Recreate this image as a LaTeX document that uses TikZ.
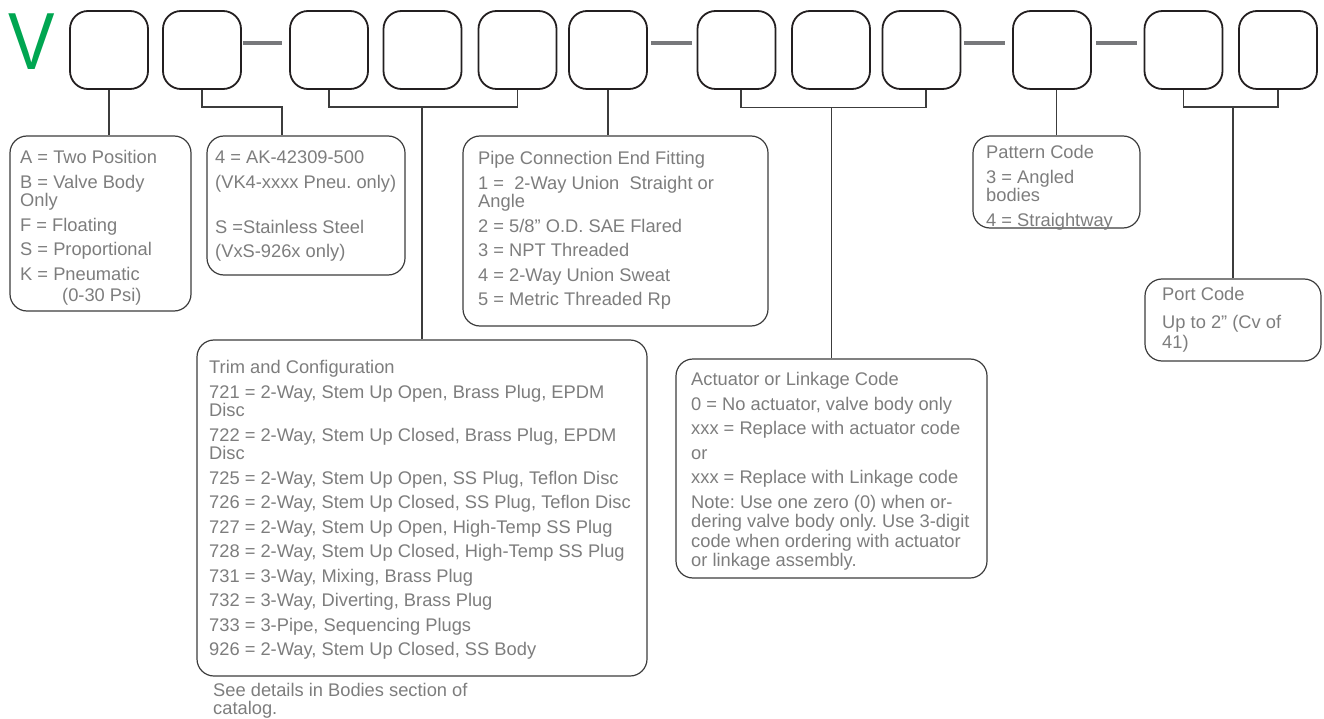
\documentclass[tikz,border=0pt]{standalone}
\usepackage{fontspec}
\setmainfont{Liberation Sans}
\usetikzlibrary{calc}
\definecolor{txtgray}{RGB}{125,125,125}
\definecolor{vgreen}{RGB}{0,166,81}
\definecolor{dashgray}{RGB}{119,120,123}
\definecolor{boxline}{RGB}{35,31,32}
\definecolor{conline}{RGB}{60,60,60}
\frenchspacing
\begin{document}
\begin{tikzpicture}[x=1pt,y=-1pt,
  codebox/.style={draw=boxline, line width=1.8pt, rounded corners=18pt, minimum width=78pt, minimum height=78pt, inner sep=0pt},
  infobox/.style={draw=conline, line width=1.2pt, rounded corners=17pt, inner sep=0pt},
  conn/.style={draw=conline, line width=1.1pt},
  sepbar/.style={draw=dashgray, line width=3.5pt},
  txt/.style={anchor=north west, inner sep=0pt, align=left, text=txtgray, font=\fontsize{18.3}{18.5}\selectfont\frenchspacing}]
\useasboundingbox (0,0) rectangle (1324,719);

% letter V
\node[anchor=base west, inner sep=0pt, text=vgreen, font=\fontsize{81}{81}\selectfont] (V) at (8,70) {\scalebox{0.86}[1]{V}};

% code boxes
\node[codebox] (b1) at (109,50) {};
\node[codebox] (b2) at (202,50) {};
\node[codebox] (b3) at (329,50) {};
\node[codebox] (b4) at (422.5,50) {};
\node[codebox] (b5) at (517.5,50) {};
\node[codebox] (b6) at (608,50) {};
\node[codebox] (b7) at (736.5,50) {};
\node[codebox] (b8) at (831,50) {};
\node[codebox] (b9) at (921.5,50) {};
\node[codebox] (b10) at (1052,50) {};
\node[codebox] (b11) at (1183.5,50) {};
\node[codebox] (b12) at (1278,50) {};

% separators
\draw[sepbar] ($(b2.east)+(1,-7)$) -- ($(b3.west)+(-7,-7)$);
\draw[sepbar] ($(b6.east)+(3,-7)$) -- ($(b7.west)+(-5,-7)$);
\draw[sepbar] ($(b9.east)+(3,-7)$) -- ($(b10.west)+(-7,-7)$);
\draw[sepbar] ($(b10.east)+(4,-7)$) -- ($(b11.west)+(-7,-7)$);

% info boxes
\node[infobox, minimum width=181pt, minimum height=175pt] (boxA) at (100.5,223.5) {};
\node[infobox, minimum width=198pt, minimum height=139pt] (boxB) at (306,205.5) {};
\node[infobox, minimum width=305pt, minimum height=190pt] (pipe) at (615.5,231) {};
\node[infobox, minimum width=167pt, minimum height=92pt] (pattern) at (1056.5,182) {};
\node[infobox, minimum width=176pt, minimum height=82pt] (port) at (1233,320) {};
\node[infobox, minimum width=450pt, minimum height=336pt] (trim) at (422,508) {};
\node[infobox, minimum width=311pt, minimum height=219pt] (act) at (831.5,468.5) {};

% connectors
\coordinate (j2) at (282,107);
\draw[conn] (b1.south) -- (b1.south |- boxA.north);
\draw[conn] (b2.south) |- (j2) -- (j2 |- boxB.north);
\draw[conn] (b3.south) |- (b5.south |- j2) -- (b5.south);
\draw[conn] (trim.north) -- (trim.north |- j2);
\draw[conn] (b6.south) -- (b6.south |- pipe.north);
\draw[conn] ($(b7.south)+(4.5,0)$) |- ($(b9.south)+(4.5,18)$) -- ($(b9.south)+(4.5,0)$);
\draw[conn] (act.north) -- (act.north |- j2);
\draw[conn] (pattern.north) -- (pattern.north |- b10.south);
\draw[conn] (b11.south) |- (b12.south |- j2) -- (b12.south);
\draw[conn] (port.north) -- (port.north |- j2);

% texts
\node[txt] (tA) at (20,149.5) {\rule{0pt}{14pt}A = Two Position\\[6pt]
B = Valve Body\\
Only\\[6pt]
F = Floating\\[6pt]
S = Proportional\\[6pt]
K = Pneumatic\\[2.5pt]
\hspace*{42pt}(0-30 Psi)};

\node[txt] (tB) at (215,149.5) {\rule{0pt}{14pt}4 = AK-42309-500\\[6pt]
(VK4-xxxx Pneu. only)\\[26.5pt]
S =Stainless Steel\\[6pt]
(VxS-926x only)};

\node[txt] (tPipe) at (478,150.5) {\rule{0pt}{14pt}Pipe Connection End Fitting\\[6pt]
1 =\ \ 2-Way Union\ \ Straight or\\
Angle\\[6pt]
2 = 5/8” O.D. SAE Flared\\[6pt]
3 = NPT Threaded\\[6pt]
4 = 2-Way Union Sweat\\[6pt]
5 = Metric Threaded Rp};

\node[txt] (tPattern) at (986,144.5) {\rule{0pt}{14pt}Pattern Code\\[6pt]
3 = Angled\\
bodies\\[6pt]
4 = Straightway};

\node[txt] (tPort) at (1162,286.5) {\rule{0pt}{14pt}Port Code\\[9.5pt]
Up to 2” (Cv of\\[1.5pt]
41)};

\node[txt] (tTrim) at (209,359.5) {\rule{0pt}{14pt}Trim and Configuration\\[6pt]
721 = 2-Way, Stem Up Open, Brass Plug, EPDM\\
Disc\\[6pt]
722 = 2-Way, Stem Up Closed, Brass Plug, EPDM\\
Disc\\[6pt]
725 = 2-Way, Stem Up Open, SS Plug, Teflon Disc\\[6pt]
726 = 2-Way, Stem Up Closed, SS Plug, Teflon Disc\\[6pt]
727 = 2-Way, Stem Up Open, High-Temp SS Plug\\[6pt]
728 = 2-Way, Stem Up Closed, High-Temp SS Plug\\[6pt]
731 = 3-Way, Mixing, Brass Plug\\[6pt]
732 = 3-Way, Diverting, Brass Plug\\[6pt]
733 = 3-Pipe, Sequencing Plugs\\[6pt]
926 = 2-Way, Stem Up Closed, SS Body};

\node[txt] (tAct) at (691,371.5) {\rule{0pt}{14pt}Actuator or Linkage Code\\[6pt]
0 = No actuator, valve body only\\[6pt]
xxx = Replace with actuator code\\[6pt]
or\\[6pt]
xxx = Replace with Linkage code\\[6pt]
Note: Use one zero (0) when or-\\[1pt]
dering valve body only. Use 3-digit\\[1pt]
code when ordering with actuator\\[1pt]
or linkage assembly.};

\node[txt] (tSee) at (213,682) {\rule{0pt}{14pt}See details in Bodies section of\\[0pt]
catalog.};
\end{tikzpicture}
\end{document}
